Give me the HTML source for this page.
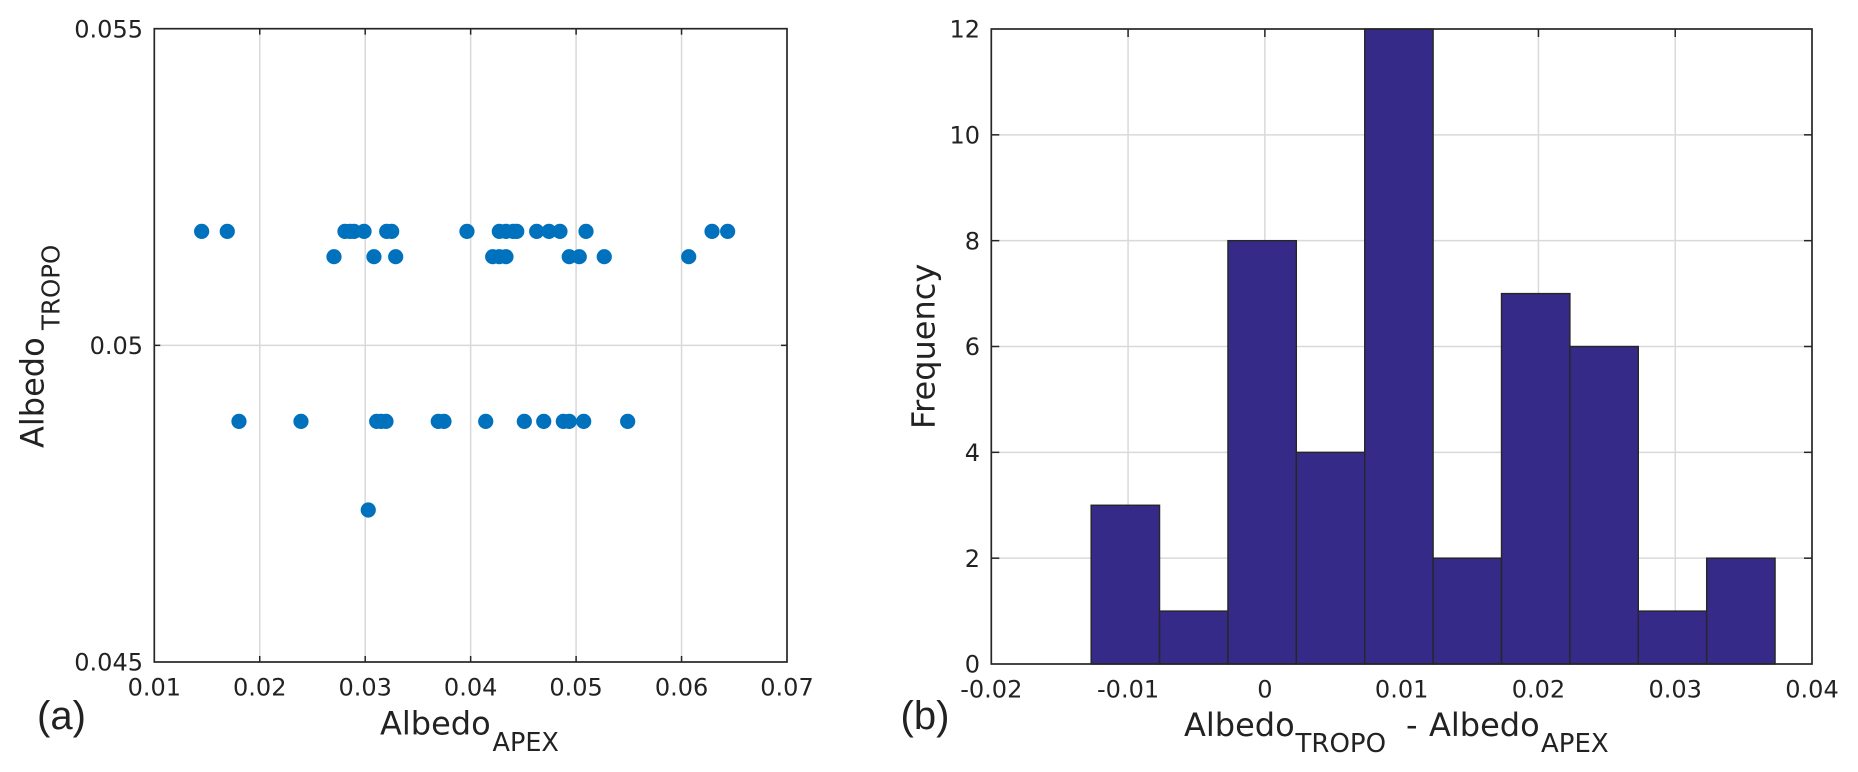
<!DOCTYPE html>
<html lang="en">
<head>
<meta charset="utf-8">
<title>Albedo scatter and histogram</title>
<style>
html,body{margin:0;padding:0;background:#fff;width:1858px;height:772px;overflow:hidden}
svg{display:block}
text{font-family:"DejaVu Sans","Liberation Sans",sans-serif;fill:#222222}
</style>
</head>
<body>
<svg id="figure" xmlns="http://www.w3.org/2000/svg" width="1858" height="772" viewBox="0 0 1858 772">
  <rect x="0" y="0" width="1858" height="772" fill="#ffffff"/>
  <g id="scatter-panel"></g>
  <g id="hist-panel"></g>

  <text x="37" y="729" font-size="40" style="font-family:'Liberation Sans',sans-serif">(a)</text>
  <text x="900.5" y="729" font-size="40" style="font-family:'Liberation Sans',sans-serif">(b)</text>

  <text x="380" y="734.5" font-size="32">Albedo<tspan x="492.5" y="751" font-size="25.5">APEX</tspan></text>
  <text transform="translate(43.5,448) rotate(-90)" x="0" y="0" font-size="32">Albedo<tspan x="118" y="16" font-size="24.5">TROPO</tspan></text>

  <text x="1184" y="736" font-size="32">Albedo<tspan x="1295.5" y="752" font-size="26">TROPO</tspan><tspan x="1406" y="736" font-size="32">-</tspan><tspan x="1429" y="736" font-size="32">Albedo</tspan><tspan x="1541" y="752" font-size="26">APEX</tspan></text>
  <text transform="translate(934.5,429) rotate(-90)" x="0" y="0" font-size="32">Frequency</text>
</svg>
<script>
// Scatter data
const scatterRowTop = [0.01449,0.01692,0.02808,0.02856,0.02894,0.02989,0.03204,0.03251,0.03965,0.04272,0.04335,0.04404,0.04437,0.04626,0.04743,0.04847,0.05094,0.06289,0.06437];
const scatterRowSecond = [0.02704,0.03083,0.03289,0.04209,0.04272,0.04335,0.04935,0.0503,0.05267,0.06068];
const scatterRowThird = [0.01803,0.02391,0.03109,0.0315,0.03197,0.03693,0.03747,0.04143,0.04509,0.04693,0.04879,0.04935,0.05072,0.05489];
const scatterRowFourth = [0.03029];
const scatterRowLevels = [0.0518,0.0514,0.0488,0.0474];
const scatterXTicks = [0.01,0.02,0.03,0.04,0.05,0.06,0.07];
const scatterXTickLabels = ['0.01','0.02','0.03','0.04','0.05','0.06','0.07'];
const scatterYTicks = [0.045,0.05,0.055];
const scatterYTickLabels = ['0.045','0.05','0.055'];

// Histogram data
const histBinEdges = [-0.0127,-0.0077,-0.0027,0.0023,0.0073,0.0123,0.0173,0.0223,0.0273,0.0323,0.0373];
const histCounts = [3,1,8,4,12,2,7,6,1,2];
const histXTicks = [-0.02,-0.01,0,0.01,0.02,0.03,0.04];
const histXTickLabels = ['-0.02','-0.01','0','0.01','0.02','0.03','0.04'];
const histYTicks = [0,2,4,6,8,10,12];
const histYTickLabels = ['0','2','4','6','8','10','12'];

const SVGNS = 'http://www.w3.org/2000/svg';
const AXIS = '#262626', GRID = '#d9d9d9', DOT = '#0072bd', BAR = '#352a87';

function scale(d0, d1, p0, p1) {
  return v => p0 + (v - d0) / (d1 - d0) * (p1 - p0);
}
function line(parent, x1, y1, x2, y2, stroke, w, name) {
  const el = document.createElementNS(SVGNS, 'line');
  el.setAttribute('x1', x1);
  el.setAttribute('y1', y1);
  el.setAttribute('x2', x2);
  el.setAttribute('y2', y2);
  el.setAttribute('stroke', stroke);
  el.setAttribute('stroke-width', w);
  
  
  parent.appendChild(el);
}
function label(parent, x, y, str, anchor, name) {
  const el = document.createElementNS(SVGNS, 'text');
  el.setAttribute('x', x);
  el.setAttribute('y', y);
  el.setAttribute('font-size', '24');
  el.setAttribute('text-anchor', anchor);
  
  
  el.textContent = str;
  parent.appendChild(el);
}
function drawGrid(parent, box, xs, ys, xTicks, yTicks) {
  xTicks.forEach(t => {
    const px = xs(t);
    if (px > box.l + 1 && px < box.r - 1) line(parent, px, box.t, px, box.b, GRID, 1.5, 'x-grid-line');
  });
  yTicks.forEach(t => {
    const py = ys(t);
    if (py > box.t + 1 && py < box.b - 1) line(parent, box.l, py, box.r, py, GRID, 1.5, 'y-grid-line');
  });
}
function drawTicks(parent, box, xs, ys, xTicks, yTicks, len) {
  xTicks.forEach(t => {
    const px = xs(t);
    if (px > box.l + 1 && px < box.r - 1) {
      line(parent, px, box.b, px, box.b - len, AXIS, 1.5, 'x-tick-bottom');
      line(parent, px, box.t, px, box.t + len, AXIS, 1.5, 'x-tick-top');
    }
  });
  yTicks.forEach(t => {
    const py = ys(t);
    if (py > box.t + 1 && py < box.b - 1) {
      line(parent, box.l, py, box.l + len, py, AXIS, 1.5, 'y-tick-left');
      line(parent, box.r, py, box.r - len, py, AXIS, 1.5, 'y-tick-right');
    }
  });
}
function drawFrame(parent, box) {
  const el = document.createElementNS(SVGNS, 'rect');
  el.setAttribute('x', box.l);
  el.setAttribute('y', box.t);
  el.setAttribute('width', box.r - box.l);
  el.setAttribute('height', box.b - box.t);
  el.setAttribute('fill', 'none');
  el.setAttribute('stroke', AXIS);
  el.setAttribute('stroke-width', '1.7');
  
  
  parent.appendChild(el);
}
function drawTickLabels(parent, box, xs, ys, xTicks, xLabels, yTicks, yLabels, yRight) {
  xTicks.forEach((t, i) => label(parent, xs(t), box.b + 33.3, xLabels[i], 'middle', 'x-tick-label'));
  yTicks.forEach((t, i) => label(parent, yRight, ys(t) + 8.7, yLabels[i], 'end', 'y-tick-label'));
}

// Scatter panel
(function () {
  const g = document.getElementById('scatter-panel');
  const box = {l: 154.3, r: 787, t: 28.7, b: 662};
  const xs = scale(0.01, 0.07, box.l, box.r);
  const ys = scale(0.045, 0.055, box.b, box.t);
  drawGrid(g, box, xs, ys, scatterXTicks, scatterYTicks);
  drawTicks(g, box, xs, ys, scatterXTicks, scatterYTicks, 6);
  drawFrame(g, box);
  const rows = [scatterRowTop, scatterRowSecond, scatterRowThird, scatterRowFourth];
  rows.forEach((row, r) => {
    row.forEach(v => {
      const c = document.createElementNS(SVGNS, 'circle');
      c.setAttribute('cx', xs(v));
      c.setAttribute('cy', ys(scatterRowLevels[r]));
      c.setAttribute('r', '7.6');
      c.setAttribute('fill', DOT);
      
      
      g.appendChild(c);
    });
  });
  drawTickLabels(g, box, xs, ys, scatterXTicks, scatterXTickLabels, scatterYTicks, scatterYTickLabels, 143);
})();

// Histogram panel
(function () {
  const g = document.getElementById('hist-panel');
  const box = {l: 991.3, r: 1812, t: 29, b: 664};
  const xs = scale(-0.02, 0.04, box.l, box.r);
  const ys = scale(0, 12, box.b, box.t);
  drawGrid(g, box, xs, ys, histXTicks, histYTicks);
  drawTicks(g, box, xs, ys, histXTicks, histYTicks, 8);
  histCounts.forEach((n, i) => {
    const x0 = xs(histBinEdges[i]);
    const x1 = xs(histBinEdges[i + 1]);
    const r = document.createElementNS(SVGNS, 'rect');
    r.setAttribute('x', x0);
    r.setAttribute('y', ys(n));
    r.setAttribute('width', x1 - x0);
    r.setAttribute('height', ys(0) - ys(n));
    r.setAttribute('fill', BAR);
    r.setAttribute('stroke', AXIS);
    r.setAttribute('stroke-width', '1.4');
    
    
    g.appendChild(r);
  });
  drawFrame(g, box);
  drawTickLabels(g, box, xs, ys, histXTicks, histXTickLabels, histYTicks, histYTickLabels, 980);
})();
</script>
</body>
</html>
